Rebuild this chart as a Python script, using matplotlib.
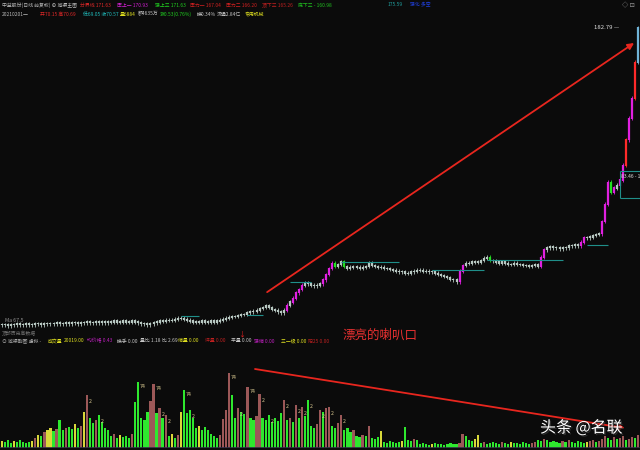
import matplotlib
matplotlib.use('Agg')
import matplotlib.pyplot as plt
import matplotlib.patheffects as pe
import numpy as np

plt.rcParams['font.family'] = ['Noto Sans CJK SC', 'DejaVu Sans']

BG = '#0b0b0b'
W, H = 640, 450

# daily closes (front-adjusted)
closes = [
    37.9, 37.9, 37.7, 37.9, 37.9, 38.1, 37.9, 37.9, 38.1, 37.9,
    37.9, 38.1, 38.1, 37.9, 38.1, 38.1, 38.1, 38.1, 38.3, 38.1,
    38.1, 38.3, 38.1, 38.3, 38.3, 38.1, 38.3, 38.3, 38.5, 38.3,
    38.3, 38.5, 38.3, 38.5, 38.3, 38.5, 38.5, 38.7, 38.5, 38.5,
    38.7, 38.5, 38.5, 38.7, 38.5, 38.3, 38.1, 38.1, 37.9, 38.1,
    38.3, 38.5, 38.7, 38.7, 38.9, 38.9, 38.9, 39.1, 39.3, 39.3,
    39.1, 38.9, 38.7, 38.5, 38.5, 38.5, 38.7, 38.5, 38.5, 38.7,
    38.5, 38.7, 38.9, 39.1, 39.3, 39.5, 39.7, 39.7, 39.9, 40.1,
    40.1, 40.4, 40.6, 40.8, 41.0, 41.4, 41.6, 41.9, 41.6, 41.2,
    41.0, 40.6, 40.4, 41.0, 42.1, 42.8, 43.7, 44.9, 45.8, 46.8,
    47.3, 47.1, 46.8, 46.6, 46.8, 47.1, 48.1, 49.6, 51.2, 52.6,
    51.7, 52.3, 52.9, 51.7, 51.2, 51.5, 51.7, 51.5, 51.2, 51.5,
    51.7, 52.6, 52.0, 51.7, 51.5, 51.5, 51.2, 51.2, 50.9, 50.7,
    50.4, 50.2, 50.2, 49.9, 49.9, 50.2, 50.4, 50.7, 50.7, 50.4,
    50.4, 50.2, 50.2, 49.9, 49.6, 49.3, 49.0, 48.8, 48.3, 48.1,
    47.6, 50.4, 52.0, 52.6, 52.6, 52.9, 52.9, 52.9, 53.4, 54.0,
    54.3, 53.4, 53.2, 52.9, 52.6, 52.9, 52.6, 52.3, 52.3, 52.6,
    52.3, 52.3, 52.0, 52.0, 51.7, 52.0, 52.3, 51.7, 54.3, 56.4,
    57.0, 57.3, 57.0, 57.0, 56.7, 57.0, 57.0, 57.6, 57.6, 57.9,
    57.6, 58.8, 60.1, 60.1, 60.4, 60.8, 61.1, 61.4, 65.5, 71.9,
    80.8, 76.6, 78.3, 79.5, 81.7, 88.4, 101.0, 113.4, 126.1, 152.6,
    182.79,
]

# daily volume (relative units)
volumes = [
    7, 6, 8, 5, 7, 6, 8, 6, 5, 6,
    7, 10, 13, 12, 16, 18, 20, 17, 19, 28,
    18, 20, 21, 19, 24, 20, 22, 36, 53, 30,
    25, 28, 33, 26, 20, 18, 12, 14, 10, 13,
    11, 12, 10, 14, 46, 66, 30, 28, 36, 47,
    64, 35, 40, 30, 33, 12, 14, 10, 13, 36,
    58, 35, 38, 30, 20, 22, 18, 21, 18, 14,
    12, 10, 13, 29, 38, 75, 53, 30, 40, 36,
    34, 61, 30, 28, 32, 54, 30, 28, 33, 26,
    30, 27, 35, 48, 28, 30, 26, 43, 30, 41,
    32, 48, 22, 20, 24, 38, 36, 40, 41, 22,
    20, 25, 33, 18, 20, 16, 18, 12, 11, 13,
    12, 22, 10, 9, 11, 17, 6, 5, 7, 6,
    5, 6, 7, 21, 8, 7, 9, 8, 4, 5,
    4, 3, 4, 5, 4, 4, 3, 4, 5, 4,
    4, 5, 14, 12, 8, 7, 9, 13, 5, 6,
    4, 5, 6, 5, 4, 6, 5, 4, 6, 5,
    5, 4, 6, 5, 4, 5, 6, 8, 7, 9,
    8, 6, 7, 6, 5, 7, 6, 8, 6, 5,
    7, 6, 5, 6, 7, 8, 6, 7, 9, 12,
    10, 8, 11, 9, 10, 12, 8, 9, 11, 10,
    13,
]

# platform lines: start index, end index, price
level_start = [59, 81, 95, 112, 142, 160, 193, 204, 204]
level_end = [65, 86, 102, 131, 159, 185, 200, 210.5, 210.5]
level_price = [39.7, 39.9, 47.6, 52.9, 50.7, 53.4, 57.9, 74.2, 85.5]

# trend arrows (index, value)
price_arrow = [(87.5, 45.1), (208.6, 168.8)]
vol_arrow = [(83.5, 79), (205.5, 20)]

top_label = '182.79'
box_label = '83.46 - 1'
note_text = '漂亮的喇叭口'
watermark = '头条 @名联'

head1 = [(2, '中益股份(日线 前复权) ⊕ 城渠主图', '#b8b8b8'),
         (80, '分界线 171.63', '#e02828'),
         (117, '压上一 170.93', '#d020d0'),
         (155, '强上三 171.63', '#20d020'),
         (190, '压力一 167.04', '#d02020'),
         (226, '压力二 166.20', '#d02020'),
         (262, '顶下三 165.26', '#c02020'),
         (298, '底下三 - 160.98', '#20c020'),
         (388, '175.59', '#20a0a0'),
         (410, '强化 多空', '#2040e0')]
head2 = [(2, '20210201一', '#b8b8b8'),
         (40, '开70.15 高70.69', '#e02828'),
         (83, '低69.05 收70.57', '#20c0c0'),
         (120, '量6884', '#e0e020'),
         (138, '额4635万', '#c8c8c8'),
         (160, '涨0.53(0.76%)', '#20d020'),
         (197, '换0.34%', '#c8c8c8'),
         (217, '流通2.84亿', '#c8c8c8'),
         (245, '专用机械', '#e0e020')]
head3 = [(2, '⊙ 城渠副图 虚拟 -', '#a8a8a8'),
         (48, '成交量', '#e0e020'),
         (64, '20019.00', '#e0e020'),
         (87, '均价格 0.43', '#c020c0'),
         (117, '换手 0.00', '#c8c8c8'),
         (140, '量比 1.18', '#c8c8c8'),
         (162, '比 2.69', '#c8c8c8'),
         (178, '缩量 0.00', '#e0e020'),
         (205, '坪量 0.00', '#c02020'),
         (231, '平量 0.00', '#c8c8c8'),
         (254, '强缩 0.00', '#c020c0'),
         (281, '三一级 0.00', '#e0e020'),
         (308, '阳25 0.00', '#c02020')]

closes = np.array(closes)
volumes = np.array(volumes)
idx = np.arange(len(closes))
opens = np.concatenate(([closes[0]], closes[:-1]))
chg = closes / opens - 1
prev_vol = np.concatenate(([volumes[0]], volumes[:-1]))

fig = plt.figure(figsize=(W / 100, H / 100), dpi=100, facecolor=BG)
ax = fig.add_axes([0, 1 - 330 / H, 1, 310 / H], facecolor=BG)
axv = fig.add_axes([0, 2 / H, 1, 100 / H], facecolor=BG)

# candle colours from the daily move
ccol = []
for c in chg:
    if c > 0.14:
        ccol.append('#ff2a2a')
    elif c > 0.02:
        ccol.append('#e020e0')
    elif c < -0.012:
        ccol.append('#22e022')
    else:
        ccol.append('#b8c8c2')
ccol[-1] = '#70b4d8'

lo = np.minimum(opens, closes) / 1.0028
hi = np.maximum(opens, closes) * 1.0028
ax.vlines(idx, lo / 1.006, hi * 1.006, colors=ccol, linewidth=0.6)
ax.vlines(idx, lo, hi, colors=ccol, linewidth=1.6)

ax.hlines(level_price, level_start, level_end, colors='#1f8f8a', linewidth=0.8)
ax.vlines([204], [74.2], [85.5], colors='#1f8f8a', linewidth=0.8)

ax.set_yscale('log')
ax.set_ylim(36.9, 190.7)
ax.set_xlim(-0.66, 210.56)
ax.axis('off')

ax.annotate('', xy=price_arrow[1], xytext=price_arrow[0],
            arrowprops=dict(arrowstyle='-|>', color='#e8261e', lw=1.3,
                            mutation_scale=9, shrinkA=0, shrinkB=0))
ax.text(203.8, 182.79, top_label + ' —', color='#e0e0e0', fontsize=4.3,
        ha='right', va='center')
ax.text(204.3, 84.5, box_label, color='#e0e0e0', fontsize=3.6, ha='left', va='top')
ax.text(1, 38.3, 'Ma 67.5', color='#909090', fontsize=3.8, va='bottom')

# volume bars: falling price green, shrinking volume green, flat yellow
vcol = []
for c, v, pv in zip(chg, volumes, prev_vol):
    if abs(c) < 0.003 and v >= pv:
        vcol.append('#d8d83a')
    elif c < 0 or v < pv:
        vcol.append('#2ee82e')
    else:
        vcol.append('#9c5858')
axv.bar(idx, volumes, width=0.72, color=vcol, linewidth=0)
for i, v in enumerate(volumes):
    if v >= 55:
        axv.text(i + 0.6, v - 2, '74', color='#d8c890', fontsize=3.8, va='top')
    elif v >= 33 and 0 < i < len(volumes) - 1 and v > volumes[i - 1] and v > volumes[i + 1]:
        axv.text(i + 0.6, v - 4, '2', color='#d8c890', fontsize=3.8, va='top')
axv.annotate('', xy=vol_arrow[1], xytext=vol_arrow[0],
             arrowprops=dict(arrowstyle='-|>', color='#e8261e', lw=1.3,
                             mutation_scale=8, shrinkA=0, shrinkB=0))
axv.set_ylim(0, 100)
axv.set_xlim(-0.66, 210.56)
axv.set_xticks([])
axv.set_yticks([])
for s in axv.spines.values():
    s.set_visible(False)
axv.axhline(0, color='#2c2c44', linewidth=1.2)

# header rows
for x, t, c in head1:
    fig.text(x / W, 1 - 5 / H, t, color=c, fontsize=3.5, va='center')
for x, t, c in head2:
    fig.text(x / W, 1 - 14 / H, t, color=c, fontsize=3.5, va='center')
for x, t, c in head3:
    fig.text(x / W, 1 - 341 / H, t, color=c, fontsize=3.5, va='center')
fig.text(622 / W, 1 - 5 / H, '◇ ⊡', color='#a0a0a0', fontsize=4.5, va='center')
fig.text(2 / W, 1 - 333 / H, '顶部历史高数据', color='#707070', fontsize=3.5, va='center')
fig.text(242 / W, 1 - 335 / H, '↓', color='#e02020', fontsize=5, ha='center', va='center')

fig.text(343 / W, 1 - 335 / H, note_text, color='#e83030', fontsize=9, va='center')
fig.text(540 / W, 1 - 428 / H, watermark, color='white', fontsize=11.5, va='center',
         path_effects=[pe.withSimplePatchShadow(offset=(1, -1), shadow_rgbFace='#333333',
                                                alpha=0.9)])

fig.savefig('out.png', dpi=100, facecolor=BG)
